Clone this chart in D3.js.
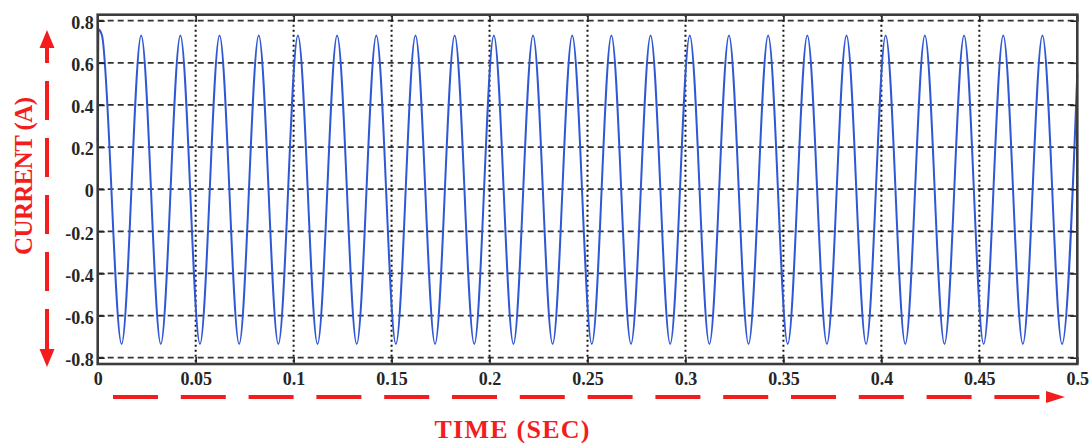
<!DOCTYPE html>
<html>
<head>
<meta charset="utf-8">
<script src="https://cdn.jsdelivr.net/npm/d3@7"></script>
<style>
  body { margin: 0; background: #fff; }
  svg { display: block; }
</style>
</head>
<body>
<svg></svg>
<script>
// Canvas
const width = 1089
const height = 443

// Plot box
const plotLeft = 97.7, plotRight = 1077.3
const plotTop = 14.7, plotBottom = 364

// Data
// start of trace (vertical jump at t = 0)
const startT = [0, 0.0004]
const startV = [0.22, 0.76]
// positive peaks
const peakT = [0.0022, 0.0222, 0.0422, 0.0622, 0.0822, 0.1022, 0.1222, 0.1422, 0.1622, 0.1822,
               0.2022, 0.2222, 0.2422, 0.2622, 0.2822, 0.3022, 0.3222, 0.3422, 0.3622, 0.3822,
               0.4022, 0.4222, 0.4422, 0.4622, 0.4822]
const peakV = [0.73, 0.73, 0.73, 0.73, 0.73, 0.73, 0.73, 0.73, 0.73, 0.73,
               0.73, 0.73, 0.73, 0.73, 0.73, 0.73, 0.73, 0.73, 0.73, 0.73,
               0.73, 0.73, 0.73, 0.73, 0.73]
// negative peaks
const troughT = [0.0122, 0.0322, 0.0522, 0.0722, 0.0922, 0.1122, 0.1322, 0.1522, 0.1722, 0.1922,
                 0.2122, 0.2322, 0.2522, 0.2722, 0.2922, 0.3122, 0.3322, 0.3522, 0.3722, 0.3922,
                 0.4122, 0.4322, 0.4522, 0.4722, 0.4922]
const troughV = [-0.735, -0.735, -0.735, -0.735, -0.735, -0.735, -0.735, -0.735, -0.735, -0.735,
                 -0.735, -0.735, -0.735, -0.735, -0.735, -0.735, -0.735, -0.735, -0.735, -0.735,
                 -0.735, -0.735, -0.735, -0.735, -0.735]
// end of trace
const endT = [0.5]
const endV = [0.55]

const xTicks = [0, 0.05, 0.1, 0.15, 0.2, 0.25, 0.3, 0.35, 0.4, 0.45, 0.5]
const xTickLabels = ['0', '0.05', '0.1', '0.15', '0.2', '0.25', '0.3', '0.35', '0.4', '0.45', '0.5']
const yTicks = [-0.8, -0.6, -0.4, -0.2, 0, 0.2, 0.4, 0.6, 0.8]
const yTickLabels = ['-0.8', '-0.6', '-0.4', '-0.2', '0', '0.2', '0.4', '0.6', '0.8']

const red = '#f31d1d'
const labelFont = '"Liberation Serif", "Times New Roman", serif'

const svg = d3.select('svg')
              .attr('width', width)
              .attr('height', height)

// Scales
const x = d3.scaleLinear().domain([0, 0.5]).range([plotLeft, plotRight])
const y = d3.scaleLinear().domain([-0.8, 0.8]).range([357.7, 20.7])

// Build the trace from the arrays
let points = startT.map((t, i) => [t, startV[i]])
peakT.forEach((t, i) => {
    points.push([t, peakV[i]])
    points.push([troughT[i], troughV[i]])
})
endT.forEach((t, i) => points.push([t, endV[i]]))

// Grid
svg.append('g')
    .selectAll('line')
    .data(yTicks)
    .enter()
    .append('line')
    .attr('x1', plotLeft).attr('x2', plotRight)
    .attr('y1', d => y(d)).attr('y2', d => y(d))
    .attr('stroke', '#333')
    .attr('stroke-width', 1.8)
    .attr('stroke-dasharray', '6,4')

svg.append('g')
    .selectAll('line')
    .data(xTicks.slice(1, -1))
    .enter()
    .append('line')
    .attr('x1', d => x(d)).attr('x2', d => x(d))
    .attr('y1', plotTop).attr('y2', plotBottom)
    .attr('stroke', '#151515')
    .attr('stroke-width', 2)
    .attr('stroke-dasharray', '2,3')

// Trace
svg.append('path')
    .datum(points)
    .attr('fill', 'none')
    .attr('stroke', '#3058d4')
    .attr('stroke-width', 2)
    .attr('d', d3.line()
                .x(d => x(d[0]))
                .y(d => y(d[1]))
                .curve(d3.curveMonotoneX))

// Axes (ticks inward on all four sides)
svg.append('g')
    .attr('transform', 'translate(0,' + plotBottom + ')')
    .call(d3.axisBottom(x).tickValues(xTicks).tickSize(-7).tickPadding(8)
            .tickFormat((d, i) => xTickLabels[i]))
svg.append('g')
    .attr('transform', 'translate(0,' + plotTop + ')')
    .call(d3.axisTop(x).tickValues(xTicks).tickSize(-7).tickFormat(''))
const yAxis = svg.append('g')
    .attr('transform', 'translate(' + plotLeft + ',0)')
    .call(d3.axisLeft(y).tickValues(yTicks).tickSize(-7).tickPadding(4)
            .tickFormat((d, i) => yTickLabels[i]))
svg.append('g')
    .attr('transform', 'translate(' + plotRight + ',0)')
    .call(d3.axisRight(y).tickValues(yTicks).tickSize(-7).tickFormat(''))

svg.selectAll('.domain').remove()
svg.selectAll('.tick line').attr('stroke', '#222').attr('stroke-width', 1.6)
svg.selectAll('.tick text')
    .attr('fill', '#262626')
    .style('font-family', labelFont)
    .style('font-weight', 'bold')
    .style('font-size', '18px')
yAxis.selectAll('.tick text').attr('y', 2)

// Frame
svg.append('rect')
    .attr('x', plotLeft).attr('y', plotTop)
    .attr('width', plotRight - plotLeft).attr('height', plotBottom - plotTop)
    .attr('fill', 'none')
    .attr('stroke', '#3c3c3c')
    .attr('stroke-width', 2.6)

// Red annotation arrows
svg.append('line')
    .attr('x1', 47).attr('x2', 47)
    .attr('y1', 47).attr('y2', 351)
    .attr('stroke', red).attr('stroke-width', 4)
    .attr('stroke-dasharray', '39,18')
    .attr('stroke-dashoffset', 23)
svg.append('line')
    .attr('x1', 47).attr('x2', 47)
    .attr('y1', 320).attr('y2', 352)
    .attr('stroke', red).attr('stroke-width', 4)
svg.append('path')
    .attr('d', 'M47,30 L39.5,48 L54.5,48 Z')
    .attr('fill', red)
svg.append('path')
    .attr('d', 'M47,367 L39.5,349 L54.5,349 Z')
    .attr('fill', red)

svg.append('line')
    .attr('x1', 113).attr('x2', 1040)
    .attr('y1', 397).attr('y2', 397)
    .attr('stroke', red).attr('stroke-width', 4)
    .attr('stroke-dasharray', '45,22.8')
svg.append('path')
    .attr('d', 'M1065,397 L1046,391 L1046,403 Z')
    .attr('fill', red)

// Axis titles
svg.append('text')
    .attr('x', 512).attr('y', 438)
    .attr('text-anchor', 'middle')
    .attr('fill', red)
    .style('font-family', labelFont)
    .style('font-weight', 'bold')
    .style('font-size', '26px')
    .attr('textLength', 155)
    .text('TIME (SEC)')

svg.append('text')
    .attr('transform', 'translate(32,176) rotate(-90)')
    .attr('text-anchor', 'middle')
    .attr('fill', red)
    .style('font-family', labelFont)
    .style('font-weight', 'bold')
    .style('font-size', '25px')
    .attr('textLength', 158)
    .text('CURRENT (A)')
</script>
</body>
</html>
